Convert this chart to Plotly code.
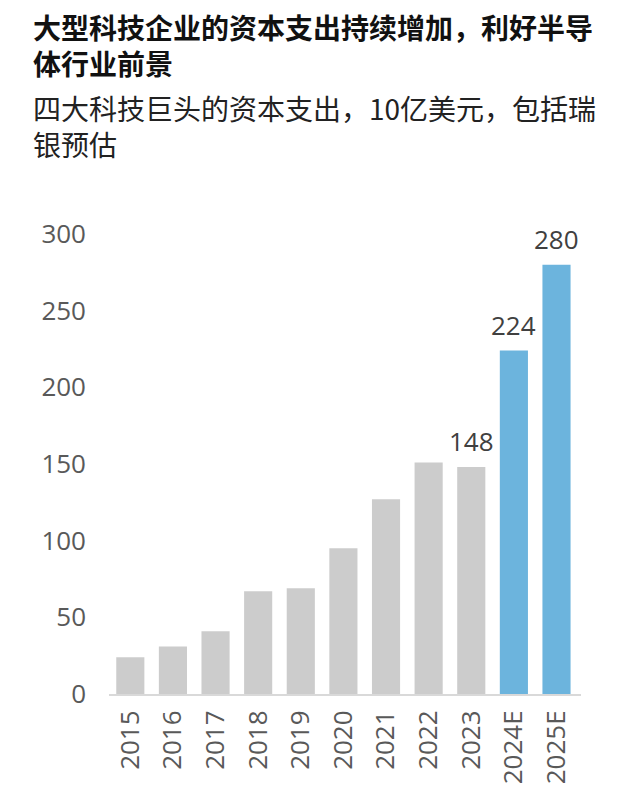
import plotly.graph_objects as go

# Big tech capex, USD bn (2024E/2025E are UBS estimates)
years = ["2015", "2016", "2017", "2018", "2019", "2020", "2021", "2022", "2023", "2024E", "2025E"]
capex = [24, 31, 41, 67, 69, 95, 127, 151, 148, 224, 280]
labelled = ["2023", "2024E", "2025E"]
y_ticks = [0, 50, 100, 150, 200, 250, 300]

title_lines = ["大型科技企业的资本支出持续增加，利好半导", "体行业前景"]
subtitle_lines = ["四大科技巨头的资本支出，10亿美元，包括瑞", "银预估"]

colors = ["#6cb4dd" if y.endswith("E") else "#cccccc" for y in years]

L, T, PW, PH = 101, 226, 472, 460

fig = go.Figure(go.Bar(x=years, y=capex, marker_color=colors, marker_line_width=0))

# value labels above the last three bars (category index, so "2023" isn't read as a number)
for i, (y, v) in enumerate(zip(years, capex)):
    if y in labelled:
        fig.add_annotation(x=i, y=v, text=str(v), showarrow=False,
                           yanchor="bottom", yshift=6,
                           font=dict(family="Open Sans", size=26, color="#404040"))

fig.update_layout(
    width=624, height=809,
    margin=dict(l=L, r=624 - L - PW, t=T, b=809 - T - PH),
    plot_bgcolor="white", paper_bgcolor="white",
    bargap=0.34, showlegend=False,
    font=dict(family="Open Sans", color="#595959"),
)
fig.update_yaxes(range=[0, 300], tickvals=y_ticks, showgrid=False, zeroline=False,
                 showline=False, ticks="", ticklabelstandoff=22,
                 tickfont=dict(family="Open Sans", size=26, color="#595959"))
fig.update_xaxes(type="category", showline=True, linecolor="#d9d9d9", linewidth=2, ticks="",
                 tickangle=-90, ticklabelstandoff=4,
                 tickfont=dict(family="Open Sans", size=26, color="#595959"))

def header(text, fy, color):
    fig.add_annotation(text=text, xref="paper", yref="paper",
                       x=(24 - L) / PW, y=1 + (T - fy) / PH,
                       xanchor="left", yanchor="middle", align="left",
                       showarrow=False, borderpad=0,
                       font=dict(family="Noto Sans CJK SC", size=28, color=color))

header("<br>".join(f"<b>{t}</b>" for t in title_lines), 37, "#111111")
header("<br>".join(subtitle_lines), 118.5, "#222222")

fig.write_html("out.html")
